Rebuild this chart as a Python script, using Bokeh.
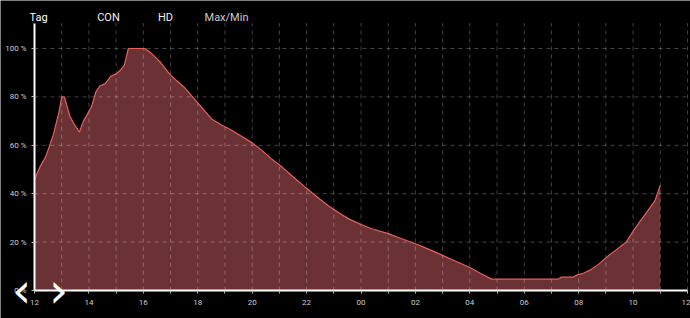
from bokeh.plotting import figure
from bokeh.models import Range1d, FixedTicker, Label, ColumnDataSource
from bokeh.embed import file_html
from bokeh.resources import INLINE

# Hours since midnight of day 1 (12 = noon, 36 = noon next day)
hours = [12.0, 12.1, 12.22, 12.4, 12.53, 12.7, 12.9, 13.0, 13.1, 13.3, 13.5, 13.65,
         13.8, 13.95, 14.1, 14.25, 14.4, 14.6, 14.8, 15.0, 15.15, 15.3, 15.45, 16.05,
         16.3, 16.65, 17.0, 17.5, 18.0, 18.5, 18.85, 19.2, 19.5, 20.0, 20.35, 20.7,
         21.1, 21.5, 21.95, 22.4, 22.8, 23.2, 23.55, 24.0, 24.4, 25.0, 25.5, 26.0,
         26.5, 27.0, 27.5, 28.0, 28.4, 28.8, 31.25, 31.35, 31.8, 31.95, 32.15, 32.4,
         32.75, 33.05, 33.4, 33.75, 34.0, 34.35, 34.8, 35.0]
percent = [45.5, 48.5, 51.5, 55.0, 59.0, 64.7, 73.7, 80.0, 80.0, 72.0, 68.0, 65.5,
           70.0, 73.0, 76.0, 82.0, 84.5, 85.5, 88.5, 89.5, 91.0, 93.0, 100.0, 100.0,
           98.0, 94.0, 89.0, 84.0, 77.5, 71.0, 68.5, 66.5, 64.5, 61.0, 58.0, 54.5,
           51.0, 47.0, 42.7, 38.5, 35.0, 32.0, 29.6, 27.3, 25.5, 23.5, 21.4, 19.3,
           17.0, 14.5, 12.0, 9.5, 7.0, 4.7, 4.7, 5.5, 5.5, 6.5, 7.0, 8.3,
           11.0, 14.0, 17.0, 20.0, 24.5, 30.0, 37.0, 43.5]
baseline = [0.0] * len(hours)

y_ticks = [0, 20, 40, 60, 80, 100]
y_labels = ["0 %", "20 %", "40 %", "60 %", "80 %", "100 %"]
x_ticks = list(range(12, 37))
x_labels = [("%02d" % (h % 24)) if h % 2 == 0 else "" for h in x_ticks]
header = ["Tag", "CON", "HD", "Max/Min"]

X0, X1 = 12, 36       # plotted time span (hours)
YTOP = 110.5          # top of the chart area (percent)

W, H = 690, 318
# pixel layout: hour 12 at x=34, hour 36 at x=687; 0 % at y=290, 100 % at y=48
px_h = (687 - 34) / 24.0
px_p = (290 - 48) / 100.0
xr = Range1d(X0 - 34 / px_h, X0 + (W - 34) / px_h)
yr = Range1d(-(H - 290) / px_p, 290 / px_p)

src = ColumnDataSource(dict(h=hours, v=percent, b=baseline))

p = figure(width=W, height=H, output_backend="svg", toolbar_location=None,
           x_range=xr, y_range=yr,
           min_border_left=0, min_border_right=0, min_border_top=0, min_border_bottom=0)
p.background_fill_color = "black"
p.border_fill_color = "black"
p.outline_line_color = None
p.xgrid.visible = False
p.ygrid.visible = False

p.varea(x="h", y1="b", y2="v", source=src, fill_color="#6b3235", fill_alpha=1.0)

# dashed grid (drawn over the area, as in the reference)
grid_kw = dict(line_color="white", line_alpha=0.25, line_width=1, line_dash="4 4")
p.segment(x0=x_ticks[1:], y0=[0] * (len(x_ticks) - 1), x1=x_ticks[1:],
          y1=[YTOP] * (len(x_ticks) - 1), **grid_kw)
p.segment(x0=[X0] * (len(y_ticks) - 1), y0=y_ticks[1:], x1=[X1] * (len(y_ticks) - 1),
          y1=y_ticks[1:], **grid_kw)

p.line(x="h", y="v", source=src, line_color="#e8605c", line_width=1.2)

FONT = "Roboto"
for ax in (p.xaxis[0], p.yaxis[0]):
    ax.axis_line_color = "white"
    ax.axis_line_width = 2
    ax.major_tick_line_color = "#bbbbbb"
    ax.major_tick_in = 0
    ax.major_tick_out = 3
    ax.minor_tick_line_color = None
    ax.major_label_text_color = "#cccccc"
    ax.major_label_text_font = FONT
    ax.major_label_text_font_size = "8px"

p.xaxis.fixed_location = 0
p.xaxis.bounds = (X0, X1)
p.yaxis.fixed_location = X0
p.yaxis.bounds = (0, YTOP)

p.yaxis.ticker = FixedTicker(ticks=y_ticks)
p.yaxis.major_label_overrides = {t: l for t, l in zip(y_ticks, y_labels)}
p.yaxis.major_label_standoff = 5
p.xaxis.ticker = FixedTicker(ticks=x_ticks)
p.xaxis.major_label_overrides = {t: l for t, l in zip(x_ticks, x_labels)}
p.xaxis.major_label_standoff = 6

header_x = [38, 108, 165, 226]
header_colors = ["white", "#eeeeee", "#eeeeee", "#cccccc"]
for t, hx, c in zip(header, header_x, header_colors):
    p.add_layout(Label(x=hx, y=H - 17, x_units="screen", y_units="screen", text=t,
                       text_color=c, text_font=FONT, text_font_size="11px",
                       text_align="center", text_baseline="middle"))

for t, ax_ in (("\u2039", 21), ("\u203a", 58)):
    p.add_layout(Label(x=ax_, y=H - 289, x_units="screen", y_units="screen", text=t,
                       text_color="white", text_font="DejaVu Sans", text_font_size="48px",
                       text_align="center", text_baseline="middle"))

open("out.html", "w").write(file_html(p, INLINE))
